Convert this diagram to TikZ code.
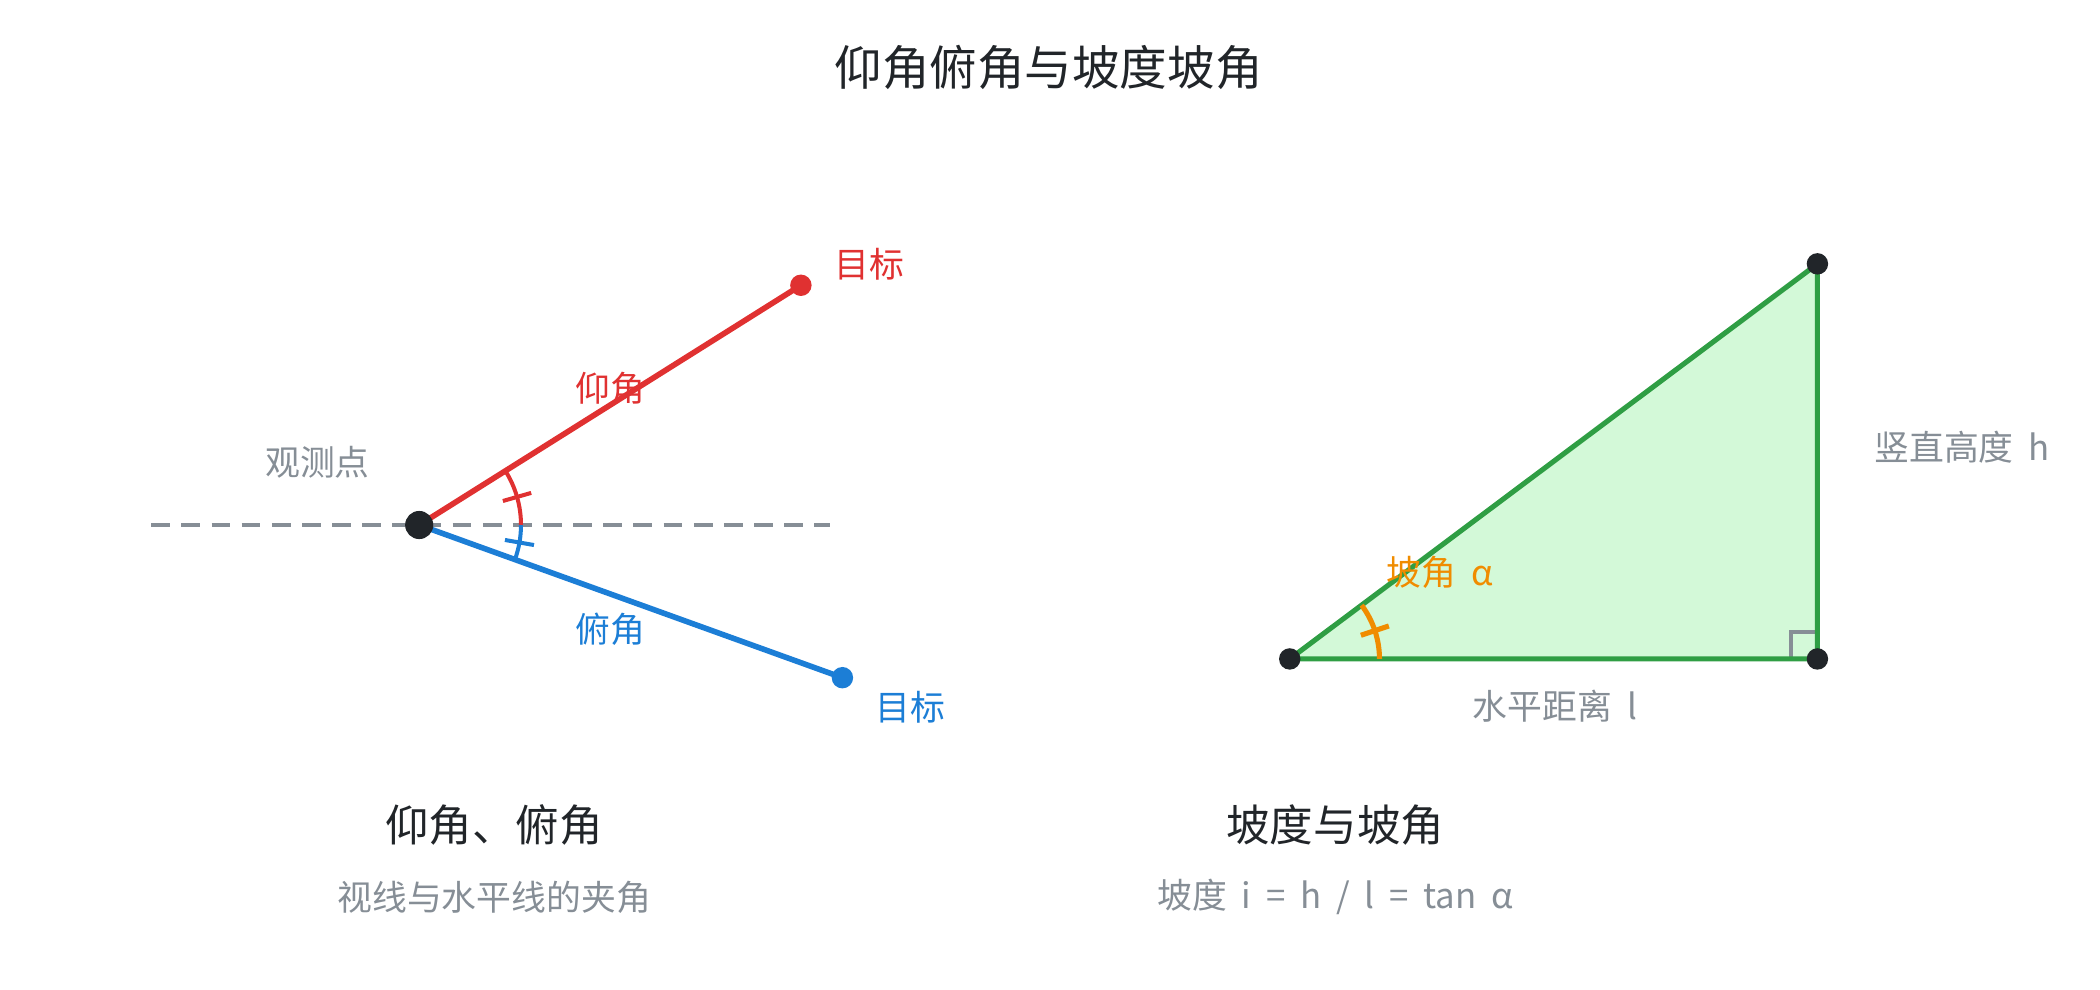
\documentclass[tikz,border=0pt]{standalone}
\usepackage{fontspec}
\setmainfont[WordSpace=1.9]{Noto Sans CJK SC}
\usepackage{tikz}

\definecolor{ink}{HTML}{212529}
\definecolor{mute}{HTML}{868E96}
\definecolor{upred}{HTML}{E03131}
\definecolor{downblue}{HTML}{1C7ED6}
\definecolor{slopegreen}{HTML}{2F9E44}
\definecolor{slopefill}{HTML}{D3F9D8}
\definecolor{anglorange}{HTML}{F08C00}

\tikzset{
  lbl/.style={font=\fontsize{26}{30}\selectfont},
  sect/.style={font=\fontsize{32.5}{36}\selectfont, text=ink},
  ttl/.style={font=\fontsize{35.5}{40}\selectfont, text=ink},
}

\begin{document}
\begin{tikzpicture}[x=1pt,y=-1pt]
\useasboundingbox (0,0) rectangle (1568,739);
%\draw [help lines,step=100] (0,0) grid (1568,739);
\node [ttl] (title) at (783,50) {仰角俯角与坡度坡角};

% ---- left: elevation and depression
\coordinate (O) at (313,392);
\coordinate (up) at (598,213);
\coordinate (down) at (629,506);
\coordinate (hl) at (113,392);
\coordinate (hr) at (620,392);
\draw [mute, line width=3.2pt, dash pattern=on 14pt off 8.5pt] (hl)--(hr);
\draw [upred, line width=4.2pt] (O)--(up);
\draw [downblue, line width=4.2pt] (O)--(down);
% angle arcs
\draw [upred, line width=3pt] ([shift={(0:76pt)}]O) arc (0:32.1:76pt);
\draw [upred, line width=3pt] ([shift={(16:65pt)}]O)--([shift={(16:87pt)}]O);
\draw [downblue, line width=3pt] ([shift={(0:76pt)}]O) arc (0:-19.8:76pt);
\draw [downblue, line width=3pt] ([shift={(-9.9:65pt)}]O)--([shift={(-9.9:87pt)}]O);
\fill [ink] (O) circle (10.5pt);
\fill [upred] (up) circle (8pt);
\fill [downblue] (down) circle (8pt);
\node [lbl,mute] (obs) at (237,345) {观测点};
\node [lbl,upred] (tup) at (649,197) {目标};
\node [lbl,upred] (aup) at (456,290) {仰角};
\node [lbl,downblue] (tdown) at (680,528) {目标};
\node [lbl,downblue] (adown) at (456,470) {俯角};
\node [sect] (lefttitle) at (369,616) {仰角、俯角};
\node [lbl,mute] (leftsub) at (369,670) {视线与水平线的夹角};

% ---- right: slope
\coordinate (A) at (963,492);
\coordinate (B) at (1357,492);
\coordinate (C) at (1357,197);
\fill [slopefill] (A)--(B)--(C)--cycle;
\draw [mute, line width=3.2pt] ([shift={(-20pt,0pt)}]B) -- ++(0pt,20pt) -- ++(20pt,0pt);
\draw [slopegreen, line width=3.8pt, line join=round] (A)--(B)--(C)--cycle;
\draw [anglorange, line width=3.8pt] ([shift={(0:67pt)}]A) arc (0:36.8:67pt);
\draw [anglorange, line width=3.8pt] ([shift={(18.4:56pt)}]A)--([shift={(18.4:78pt)}]A);
\fill [ink] (A) circle (8pt);
\fill [ink] (B) circle (8pt);
\fill [ink] (C) circle (8pt);
\node [lbl,anglorange] (alpha) at (1075,427) {坡角 α};
\node [lbl,mute] (height) at (1465,334) {竖直高度 h};
\node [lbl,mute] (length) at (1161,527) {水平距离 l};
\node [sect] (righttitle) at (997,616) {坡度与坡角};
\node [lbl,mute] (rightsub) at (997,670) {坡度 i = h / l = tan α};
\end{tikzpicture}
\end{document}
